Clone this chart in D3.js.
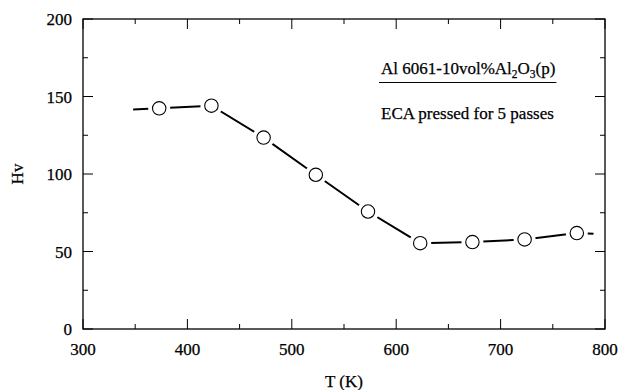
<!DOCTYPE html>
<html>
<head>
<meta charset="utf-8">
<script src="https://cdn.jsdelivr.net/npm/d3@7"></script>
<style>
  body { margin: 0; background: #fff; }
  svg text { font-family: 'Liberation Serif', 'Times New Roman', 'DejaVu Serif', serif; fill: #000; stroke: #000; stroke-width: 0.25px; }
</style>
</head>
<body>
<svg width="620" height="390"></svg>
<script>
// measured points
const temps = [373, 423, 473, 523, 573, 623, 673, 723, 773]
const hv = [142.4, 144.1, 123.5, 99.5, 75.8, 55.4, 56.1, 57.8, 61.9]

// guide line drawn through the points
const lineT = [348, 373, 423, 473, 523, 573, 623, 673, 723, 773, 789]
const lineHv = [141.6, 142.4, 144.1, 123.5, 99.5, 75.8, 55.4, 56.1, 57.8, 61.9, 61.4]

const xMajor = [300, 400, 500, 600, 700, 800]
const xMinor = [350, 450, 550, 650, 750]
const yMajor = [0, 50, 100, 150, 200]
const yMinor = [25, 75, 125, 175]

const svg = d3.select('svg')
const plotL = 83, plotR = 605, plotT = 19, plotB = 329
const fs = 17

const x = d3.scaleLinear().domain([300, 800]).range([plotL, plotR])
const y = d3.scaleLinear().domain([0, 200]).range([plotB, plotT])

// frame
svg.append('rect')
    .attr('x', plotL)
    .attr('y', plotT)
    .attr('width', plotR - plotL)
    .attr('height', plotB - plotT)
    .attr('fill', 'none')
    .attr('stroke', '#000')
    .attr('stroke-width', 1.3)

// ticks, inward on every side
function xTicks(vals, len) {
    svg.append('g').selectAll('line')
        .data(vals)
        .join('line')
        .attr('x1', d => x(d)).attr('x2', d => x(d))
        .attr('y1', plotB).attr('y2', plotB - len)
        .attr('stroke', '#000').attr('stroke-width', 1)
    svg.append('g').selectAll('line')
        .data(vals)
        .join('line')
        .attr('x1', d => x(d)).attr('x2', d => x(d))
        .attr('y1', plotT).attr('y2', plotT + len)
        .attr('stroke', '#000').attr('stroke-width', 1)
}
function yTicks(vals, len) {
    svg.append('g').selectAll('line')
        .data(vals)
        .join('line')
        .attr('y1', d => y(d)).attr('y2', d => y(d))
        .attr('x1', plotL).attr('x2', plotL + len)
        .attr('stroke', '#000').attr('stroke-width', 1)
    svg.append('g').selectAll('line')
        .data(vals)
        .join('line')
        .attr('y1', d => y(d)).attr('y2', d => y(d))
        .attr('x1', plotR).attr('x2', plotR - len)
        .attr('stroke', '#000').attr('stroke-width', 1)
}
xTicks(xMajor, 10)
xTicks(xMinor, 5)
yTicks(yMajor, 10)
yTicks(yMinor, 5)

// tick labels
svg.append('g').selectAll('text')
    .data(xMajor)
    .join('text')
    .attr('x', d => x(d))
    .attr('y', 355)
    .attr('text-anchor', 'middle')
    .attr('font-size', fs)
    .text(d => d)

svg.append('g').selectAll('text')
    .data(yMajor)
    .join('text')
    .attr('x', 72)
    .attr('y', d => y(d) + 6)
    .attr('text-anchor', 'end')
    .attr('font-size', fs)
    .text(d => d)

// axis titles
svg.append('text')
    .attr('x', x(550))
    .attr('y', 387)
    .attr('text-anchor', 'middle')
    .attr('font-size', fs)
    .text('T (K)')

svg.append('text')
    .attr('transform', `translate(23, ${y(100)}) rotate(-90)`)
    .attr('text-anchor', 'middle')
    .attr('font-size', fs)
    .text('Hv')

// guide line
const line = d3.line()
    .x((d, i) => x(lineT[i]))
    .y(d => y(d))

svg.append('path')
    .datum(lineHv)
    .attr('d', line)
    .attr('fill', 'none')
    .attr('stroke', '#000')
    .attr('stroke-width', 2)

// white halo leaves the gap around each marker
svg.append('g').selectAll('circle')
    .data(hv)
    .join('circle')
    .attr('cx', (d, i) => x(temps[i]))
    .attr('cy', d => y(d))
    .attr('r', 11)
    .attr('fill', '#fff')

svg.append('g').selectAll('circle')
    .data(hv)
    .join('circle')
    .attr('cx', (d, i) => x(temps[i]))
    .attr('cy', d => y(d))
    .attr('r', 6.7)
    .attr('fill', '#fff')
    .attr('stroke', '#000')
    .attr('stroke-width', 1.1)

// annotation
const title = svg.append('text')
    .attr('x', 381)
    .attr('y', 74)
    .attr('font-size', fs)
title.append('tspan').text('Al 6061-10vol%Al')
title.append('tspan').attr('font-size', 11.5).attr('dy', 4).text('2')
title.append('tspan').attr('dy', -4).text('O')
title.append('tspan').attr('font-size', 11.5).attr('dy', 4).text('3')
title.append('tspan').attr('dy', -4).text('(p)')

const tb = title.node().getBBox()
svg.append('line')
    .attr('x1', tb.x - 2)
    .attr('x2', tb.x + tb.width + 1)
    .attr('y1', 82.5)
    .attr('y2', 82.5)
    .attr('stroke', '#000')
    .attr('stroke-width', 1.2)

svg.append('text')
    .attr('x', 381)
    .attr('y', 118.5)
    .attr('font-size', fs)
    .text('ECA pressed for 5 passes')
</script>
</body>
</html>
